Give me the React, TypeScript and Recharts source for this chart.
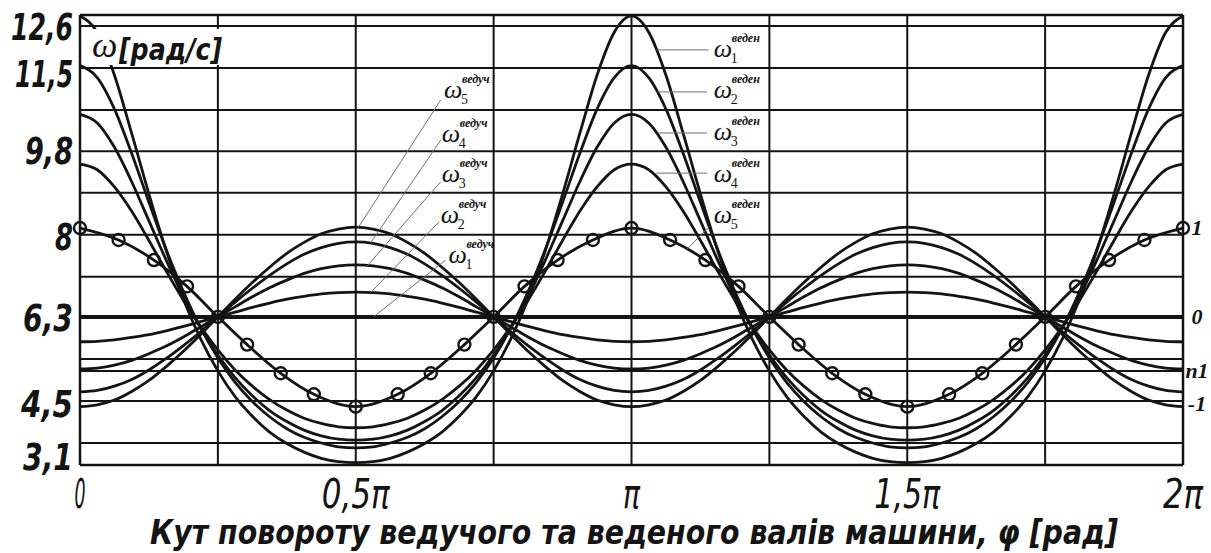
import React from 'react';
import { LineChart, Line, XAxis, YAxis, ReferenceLine, ReferenceDot } from 'recharts';

// Shaft rotation angle φ, in units of π (step π/32)
const PHI = [
  0, 0.03125, 0.0625, 0.09375, 0.125, 0.15625, 0.1875, 0.21875, 0.25, 0.28125, 0.3125, 0.34375, 0.375, 0.40625, 0.4375, 0.46875,
  0.5, 0.53125, 0.5625, 0.59375, 0.625, 0.65625, 0.6875, 0.71875, 0.75, 0.78125, 0.8125, 0.84375, 0.875, 0.90625, 0.9375, 0.96875,
  1, 1.03125, 1.0625, 1.09375, 1.125, 1.15625, 1.1875, 1.21875, 1.25, 1.28125, 1.3125, 1.34375, 1.375, 1.40625, 1.4375, 1.46875,
  1.5, 1.53125, 1.5625, 1.59375, 1.625, 1.65625, 1.6875, 1.71875, 1.75, 1.78125, 1.8125, 1.84375, 1.875, 1.90625, 1.9375, 1.96875, 2,
];

// Driven shaft angular speed ω_k^веден, rad/s
const DRIVEN_1 = [
  12.6, 12.26, 11.36, 10.14, 8.87, 7.69, 6.67, 5.84, 5.17, 4.63, 4.22, 3.89, 3.65, 3.47, 3.34, 3.27, 3.25,
  3.27, 3.34, 3.47, 3.65, 3.89, 4.22, 4.63, 5.17, 5.84, 6.67, 7.69, 8.87, 10.14, 11.36, 12.26, 12.6,
  12.26, 11.36, 10.14, 8.87, 7.69, 6.67, 5.84, 5.17, 4.63, 4.22, 3.89, 3.65, 3.47, 3.34, 3.27, 3.25,
  3.27, 3.34, 3.47, 3.65, 3.89, 4.22, 4.63, 5.17, 5.84, 6.67, 7.69, 8.87, 10.14, 11.36, 12.26, 12.6,
];
const DRIVEN_2 = [
  11.56, 11.31, 10.65, 9.72, 8.7, 7.71, 6.83, 6.07, 5.44, 4.93, 4.53, 4.21, 3.96, 3.78, 3.66, 3.58, 3.56,
  3.58, 3.66, 3.78, 3.96, 4.21, 4.53, 4.93, 5.44, 6.07, 6.83, 7.71, 8.7, 9.72, 10.65, 11.31, 11.56,
  11.31, 10.65, 9.72, 8.7, 7.71, 6.83, 6.07, 5.44, 4.93, 4.53, 4.21, 3.96, 3.78, 3.66, 3.58, 3.56,
  3.58, 3.66, 3.78, 3.96, 4.21, 4.53, 4.93, 5.44, 6.07, 6.83, 7.71, 8.7, 9.72, 10.65, 11.31, 11.56,
];
const DRIVEN_3 = [
  10.54, 10.36, 9.85, 9.13, 8.31, 7.49, 6.73, 6.07, 5.5, 5.03, 4.65, 4.34, 4.11, 3.93, 3.81, 3.74, 3.72,
  3.74, 3.81, 3.93, 4.11, 4.34, 4.65, 5.03, 5.5, 6.07, 6.73, 7.49, 8.31, 9.13, 9.85, 10.36, 10.54,
  10.36, 9.85, 9.13, 8.31, 7.49, 6.73, 6.07, 5.5, 5.03, 4.65, 4.34, 4.11, 3.93, 3.81, 3.74, 3.72,
  3.74, 3.81, 3.93, 4.11, 4.34, 4.65, 5.03, 5.5, 6.07, 6.73, 7.49, 8.31, 9.13, 9.85, 10.36, 10.54,
];
const DRIVEN_4 = [
  9.5, 9.38, 9.02, 8.51, 7.9, 7.26, 6.65, 6.1, 5.61, 5.19, 4.85, 4.57, 4.35, 4.18, 4.07, 4.0, 3.98,
  4.0, 4.07, 4.18, 4.35, 4.57, 4.85, 5.19, 5.61, 6.1, 6.65, 7.26, 7.9, 8.51, 9.02, 9.38, 9.5,
  9.38, 9.02, 8.51, 7.9, 7.26, 6.65, 6.1, 5.61, 5.19, 4.85, 4.57, 4.35, 4.18, 4.07, 4.0, 3.98,
  4.0, 4.07, 4.18, 4.35, 4.57, 4.85, 5.19, 5.61, 6.1, 6.65, 7.26, 7.9, 8.51, 9.02, 9.38, 9.5,
];

// Driving shaft angular speed ω_k^ведуч, rad/s
const DRIVING_2 = [
  5.78, 5.79, 5.82, 5.87, 5.93, 6.01, 6.1, 6.2, 6.3, 6.4, 6.5, 6.59, 6.67, 6.73, 6.78, 6.81, 6.82,
  6.81, 6.78, 6.73, 6.67, 6.59, 6.5, 6.4, 6.3, 6.2, 6.1, 6.01, 5.93, 5.87, 5.82, 5.79, 5.78,
  5.79, 5.82, 5.87, 5.93, 6.01, 6.1, 6.2, 6.3, 6.4, 6.5, 6.59, 6.67, 6.73, 6.78, 6.81, 6.82,
  6.81, 6.78, 6.73, 6.67, 6.59, 6.5, 6.4, 6.3, 6.2, 6.1, 6.01, 5.93, 5.87, 5.82, 5.79, 5.78,
];
const DRIVING_3 = [
  5.21, 5.23, 5.29, 5.39, 5.53, 5.69, 5.88, 6.09, 6.3, 6.51, 6.72, 6.91, 7.07, 7.21, 7.31, 7.37, 7.39,
  7.37, 7.31, 7.21, 7.07, 6.91, 6.72, 6.51, 6.3, 6.09, 5.88, 5.69, 5.53, 5.39, 5.29, 5.23, 5.21,
  5.23, 5.29, 5.39, 5.53, 5.69, 5.88, 6.09, 6.3, 6.51, 6.72, 6.91, 7.07, 7.21, 7.31, 7.37, 7.39,
  7.37, 7.31, 7.21, 7.07, 6.91, 6.72, 6.51, 6.3, 6.09, 5.88, 5.69, 5.53, 5.39, 5.29, 5.23, 5.21,
];
const DRIVING_4 = [
  4.73, 4.76, 4.85, 4.99, 5.19, 5.43, 5.7, 5.99, 6.3, 6.61, 6.9, 7.17, 7.41, 7.61, 7.75, 7.84, 7.87,
  7.84, 7.75, 7.61, 7.41, 7.17, 6.9, 6.61, 6.3, 5.99, 5.7, 5.43, 5.19, 4.99, 4.85, 4.76, 4.73,
  4.76, 4.85, 4.99, 5.19, 5.43, 5.7, 5.99, 6.3, 6.61, 6.9, 7.17, 7.41, 7.61, 7.75, 7.84, 7.87,
  7.84, 7.75, 7.61, 7.41, 7.17, 6.9, 6.61, 6.3, 5.99, 5.7, 5.43, 5.19, 4.99, 4.85, 4.76, 4.73,
];
const DRIVING_5 = [
  4.42, 4.46, 4.56, 4.74, 4.97, 5.26, 5.58, 5.93, 6.3, 6.67, 7.02, 7.34, 7.63, 7.86, 8.04, 8.14, 8.18,
  8.14, 8.04, 7.86, 7.63, 7.34, 7.02, 6.67, 6.3, 5.93, 5.58, 5.26, 4.97, 4.74, 4.56, 4.46, 4.42,
  4.46, 4.56, 4.74, 4.97, 5.26, 5.58, 5.93, 6.3, 6.67, 7.02, 7.34, 7.63, 7.86, 8.04, 8.14, 8.18,
  8.14, 8.04, 7.86, 7.63, 7.34, 7.02, 6.67, 6.3, 5.93, 5.58, 5.26, 4.97, 4.74, 4.56, 4.46, 4.42,
];

// ω_1^ведуч is constant
const PHI_ENDS = [0, 2];
const DRIVING_1 = [6.3, 6.3];

// ω_5^веден, measured at the marked points
const PHI_MARKED = [
  0, 0.07, 0.134, 0.194, 0.25, 0.303, 0.364, 0.424, 0.5, 0.576, 0.636, 0.697, 0.75, 0.806, 0.866, 0.93,
  1, 1.07, 1.134, 1.194, 1.25, 1.303, 1.364, 1.424, 1.5, 1.576, 1.636, 1.697, 1.75, 1.806, 1.866, 1.93, 2,
];
const DRIVEN_5 = [
  8.16, 7.91, 7.49, 6.94, 6.3, 5.72, 5.12, 4.68, 4.42, 4.68, 5.12, 5.72, 6.3, 6.94, 7.49, 7.91,
  8.16, 7.91, 7.49, 6.94, 6.3, 5.72, 5.12, 4.68, 4.42, 4.68, 5.12, 5.72, 6.3, 6.94, 7.49, 7.91, 8.16,
];

// Axes
const Y_MIN = 3.2;
const Y_MAX = 12.62;
const X_TICKS = [0, 0.25, 0.5, 0.75, 1, 1.25, 1.5, 1.75, 2];
const X_GRID = [0.25, 0.5, 0.75, 1, 1.25, 1.5, 1.75];
const X_LABEL_AT = [0, 0.5, 1, 1.5, 2];
const X_LABEL_TEXT = ['0', '0,5π', 'π', '1,5π', '2π'];
const Y_GRID = [12.39, 11.51, 10.63, 9.77, 8.9, 8.02, 7.14, 5.42, 5.17, 4.54, 3.66];
const Y_LABEL_AT = [12.39, 11.41, 9.8, 8, 6.3, 4.5, 3.39];
const Y_LABEL_TEXT = ['12,6', '11,5', '9,8', '8', '6,3', '4,5', '3,1'];
const RIGHT_LABEL_AT = [8.16, 6.3, 5.17, 4.48];
const RIGHT_LABEL_TEXT = ['1', '0', 'n1', '-1'];

// Series captions: where the ω sits and where its leader runs
const DRIVING_TAGS = [
  { n: '5', at: [0.66, 10.88], from: [0.654, 10.84], to: [0.505, 8.18] },
  { n: '4', at: [0.656, 9.96], from: [0.654, 10.0], to: [0.527, 7.85] },
  { n: '3', at: [0.656, 9.13], from: [0.654, 9.13], to: [0.521, 7.37] },
  { n: '2', at: [0.654, 8.27], from: [0.651, 8.29], to: [0.527, 6.81] },
  { n: '1', at: [0.668, 7.43], from: [0.663, 7.49], to: [0.532, 6.3] },
];
const DRIVEN_TAGS = [
  { n: '1', at: [1.149, 11.74], from: [1.046, 11.89], to: [1.14, 11.89] },
  { n: '2', at: [1.149, 10.88], from: [1.047, 11.01], to: [1.137, 11.01] },
  { n: '3', at: [1.149, 10.0], from: [1.047, 10.15], to: [1.137, 10.15] },
  { n: '4', at: [1.149, 9.13], from: [1.045, 9.31], to: [1.137, 9.31] },
  { n: '5', at: [1.149, 8.27], from: [1.101, 7.72], to: [1.14, 8.18] },
];

const INK = '#141414';
const CONDENSED = "'DejaVu Sans Condensed', 'DejaVu Sans', sans-serif";
const SERIF = "'Liberation Serif', 'DejaVu Serif', serif";
const Y_LABEL_WIDTH: Record<string, number> = { '12,6': 62, '11,5': 58, '9,8': 48, '8': 18, '6,3': 50, '4,5': 52, '3,1': 50 };
const X_LABEL_WIDTH: Record<string, number> = { '0': 11, '0,5π': 68, 'π': 17, '1,5π': 66, '2π': 40 };

function LeftTick(props: any) {
  const { x, y, payload } = props;
  const i = Y_LABEL_AT.indexOf(payload.value);
  if (i < 0) return null;
  const t = Y_LABEL_TEXT[i];
  return (
    <text x={x - 7} y={y + 14} textAnchor="end" fontFamily={CONDENSED} fontWeight="bold" fontStyle="italic"
      fontSize={38} fill={INK} textLength={Y_LABEL_WIDTH[t]} lengthAdjust="spacingAndGlyphs">{t}</text>
  );
}

function BottomTick(props: any) {
  const { x, y, payload } = props;
  const i = X_LABEL_AT.indexOf(payload.value);
  if (i < 0) return null;
  const t = X_LABEL_TEXT[i];
  return (
    <text x={x} y={y + 43} textAnchor="middle" fontFamily={CONDENSED} fontWeight={300} fontStyle="italic"
      fontSize={40} fill={INK} textLength={X_LABEL_WIDTH[t]} lengthAdjust="spacingAndGlyphs">{t}</text>
  );
}

function AxisTitle(props: any) {
  const vb = props.viewBox || { x: 80, y: 465, width: 1103, height: 88 };
  return (
    <text x={vb.x + 70} y={vb.y + 79} fontFamily={CONDENSED} fontWeight="bold" fontStyle="italic" fontSize={33}
      fill={INK} textLength={968} lengthAdjust="spacingAndGlyphs">
      Кут повороту ведучого та веденого валів машини, φ [рад]
    </text>
  );
}

function OmegaTag({ cx, cy, n, sup }: { cx: number; cy: number; n: string; sup: string }) {
  return (
    <g>
      <text x={cx} y={cy} fontFamily={SERIF} fontStyle="italic" fontSize={26} fill={INK}>ω</text>
      <text x={cx + 17} y={cy + 6} fontFamily={SERIF} fontSize={14} fill={INK}>{n}</text>
      <text x={cx + 18} y={cy - 15} fontFamily={SERIF} fontStyle="italic" fontWeight="bold" fontSize={12} fill={INK}>{sup}</text>
    </g>
  );
}

function EdgeMark({ cx, cy, text }: { cx: number; cy: number; text: string }) {
  return (
    <text x={cx + 14} y={cy + 7} textAnchor="middle" fontFamily={SERIF} fontWeight="bold" fontStyle="italic"
      fontSize={22} fill={INK}>{text}</text>
  );
}

export default function App() {
  const rows = PHI.map((phi, i) => ({
    phi,
    a1: DRIVEN_1[i], a2: DRIVEN_2[i], a3: DRIVEN_3[i], a4: DRIVEN_4[i],
    b2: DRIVING_2[i], b3: DRIVING_3[i], b4: DRIVING_4[i], b5: DRIVING_5[i],
  }));
  const marked = PHI_MARKED.map((phi, i) => ({ phi, w: DRIVEN_5[i] }));
  const level = PHI_ENDS.map((phi, i) => ({ phi, w: DRIVING_1[i] }));

  const curve = { type: 'monotone' as const, stroke: INK, strokeWidth: 2.8, dot: false, activeDot: false, isAnimationActive: false, yAxisId: 'l' };

  return (
    <div style={{ position: 'absolute', left: 0, top: 0, width: 1211, height: 553, background: '#fff' }}>
      <LineChart width={1211} height={553} data={rows} margin={{ top: 15, right: 28, bottom: 0, left: 0 }}>
        <XAxis type="number" dataKey="phi" domain={[0, 2]} ticks={X_TICKS} interval={0} height={88}
          axisLine={false} tickLine={false} tickSize={0} tickMargin={0}
          tick={(p: any) => <BottomTick {...p} />} label={(p: any) => <AxisTitle {...p} />} />
        <YAxis yAxisId="l" type="number" domain={[Y_MIN, Y_MAX]} ticks={Y_LABEL_AT} interval={0} width={80}
          axisLine={false} tickLine={false} tickSize={0} tickMargin={0} tick={(p: any) => <LeftTick {...p} />} />

        {Y_GRID.map((v) => (
          <ReferenceLine key={'h' + v} yAxisId="l" y={v} stroke={INK} strokeWidth={2} />
        ))}
        {X_GRID.map((v) => (
          <ReferenceLine key={'v' + v} yAxisId="l" x={v} stroke={INK} strokeWidth={2} />
        ))}
        <ReferenceLine yAxisId="l" y={Y_MAX} stroke={INK} strokeWidth={2.5} />
        <ReferenceLine yAxisId="l" y={Y_MIN} stroke={INK} strokeWidth={2.5} />
        <ReferenceLine yAxisId="l" x={0} stroke={INK} strokeWidth={2.5} />
        <ReferenceLine yAxisId="l" x={2} stroke={INK} strokeWidth={2.5} />

        <Line {...curve} data={level} dataKey="w" strokeWidth={4} type="linear" />
        <Line {...curve} dataKey="b2" />
        <Line {...curve} dataKey="b3" />
        <Line {...curve} dataKey="b4" />
        <Line {...curve} dataKey="b5" />
        <Line {...curve} dataKey="a4" />
        <Line {...curve} dataKey="a3" />
        <Line {...curve} dataKey="a2" />
        <Line {...curve} dataKey="a1" />
        <Line {...curve} data={marked} dataKey="w"
          dot={{ r: 6, stroke: INK, strokeWidth: 2.4, fill: 'none' }} />

        {DRIVING_TAGS.map((t) => (
          <ReferenceLine key={'ld' + t.n} yAxisId="l" ifOverflow="visible" stroke="#6e6e6e" strokeWidth={1}
            segment={[{ x: t.from[0], y: t.from[1] }, { x: t.to[0], y: t.to[1] }]} />
        ))}
        {DRIVEN_TAGS.map((t) => (
          <ReferenceLine key={'le' + t.n} yAxisId="l" ifOverflow="visible" stroke="#6e6e6e" strokeWidth={1}
            segment={[{ x: t.from[0], y: t.from[1] }, { x: t.to[0], y: t.to[1] }]} />
        ))}
        {DRIVING_TAGS.map((t) => (
          <ReferenceDot key={'td' + t.n} yAxisId="l" x={t.at[0]} y={t.at[1]} r={0} ifOverflow="visible"
            shape={(p: any) => <OmegaTag cx={p.cx} cy={p.cy} n={t.n} sup="ведуч" />} />
        ))}
        {DRIVEN_TAGS.map((t) => (
          <ReferenceDot key={'te' + t.n} yAxisId="l" x={t.at[0]} y={t.at[1]} r={0} ifOverflow="visible"
            shape={(p: any) => <OmegaTag cx={p.cx} cy={p.cy} n={t.n} sup="веден" />} />
        ))}
        {RIGHT_LABEL_AT.map((v, i) => (
          <ReferenceDot key={'rm' + i} yAxisId="l" x={2} y={v} r={0} ifOverflow="visible"
            shape={(p: any) => <EdgeMark cx={p.cx} cy={p.cy} text={RIGHT_LABEL_TEXT[i]} />} />
        ))}
      </LineChart>

      <svg width={1211} height={553} style={{ position: 'absolute', left: 0, top: 0, pointerEvents: 'none' }}>
        <rect x={84} y={29} width={139} height={36} fill="#fff" />
        <text x={92} y={57} fontFamily={SERIF} fontStyle="italic" fontSize={36} fill={INK}>ω</text>
        <text x={119} y={60} fontFamily={CONDENSED} fontWeight="bold" fontStyle="italic" fontSize={30} fill={INK}
          textLength={103} lengthAdjust="spacingAndGlyphs">[рад/с]</text>
      </svg>
    </div>
  );
}
